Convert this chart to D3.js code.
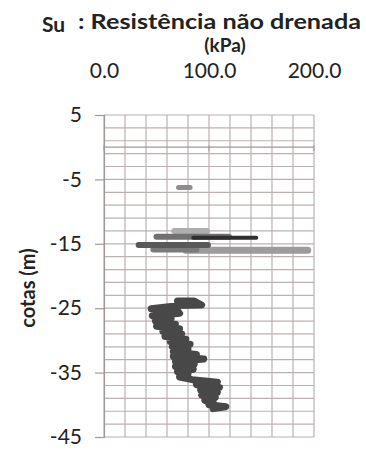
<!DOCTYPE html>
<html>
<head>
<meta charset="utf-8">
<script src="https://cdn.jsdelivr.net/npm/d3@7"></script>
<style>
  html, body { margin: 0; padding: 0; background: #fff; }
  svg { display: block; }
  text { font-family: Lato, "Open Sans", sans-serif; fill: #222; }
</style>
</head>
<body>
<svg id="chart" width="366" height="450"></svg>
<script>
// Undrained shear strength (Su, kPa) against elevation (m)
const suTicks = [0, 100, 200];
const cotaTicks = [5, -5, -15, -25, -35, -45];

// Isolated test readings: [Su (kPa), cota (m)]
const ensaioA = [[71, -6.25], [82, -6.25]];
const ensaioB = [[67, -13.0], [98, -13.0]];
const ensaioC = [[50, -13.9], [119, -13.9]];
const ensaioD = [[85, -14.05], [145, -14.05]];
const ensaioE = [[33, -15.2], [99, -15.2]];
const ensaioF = [[78, -16.0], [194, -16.0]];
const ensaioG = [[47, -15.9], [88, -15.9]];

// Continuous profile in the lower clay layer: [Su (kPa), cota (m)]
const perfil = [
  [70, -23.9], [86, -23.9], [93, -24.5], [70, -24.6], [45, -25.1], [70, -25.4],
  [72, -25.8], [46, -26.2], [64, -26.6], [49, -27.0], [68, -27.5], [50, -27.8],
  [72, -28.2], [56, -28.6], [74, -29.0], [58, -29.4], [78, -29.8], [63, -30.2],
  [82, -30.6], [65, -31.0], [80, -31.4], [66, -31.8], [88, -32.2], [66, -32.5],
  [95, -32.9], [68, -33.3], [86, -33.7], [68, -34.1], [85, -34.5], [70, -34.9],
  [80, -35.3], [72, -35.7], [84, -36.1], [108, -36.5], [88, -36.9], [110, -37.3],
  [92, -37.7], [108, -38.1], [93, -38.5], [106, -38.9], [96, -39.3], [104, -39.7],
  [100, -40.0], [116, -40.3], [104, -40.6]
];

const svg = d3.select("#chart");
const plotLeft = 104, plotRight = 314, plotTop = 115, plotBottom = 437;

const x = d3.scaleLinear().domain([0, 200]).range([plotLeft, plotRight]);
const y = d3.scaleLinear().domain([5, -45]).range([plotTop, plotBottom]);

const gridColor = "#bcb0b0";
const axisColor = "#a39797";
const labelFont = "Lato, 'Open Sans', sans-serif";

// Gridlines
const grid = svg.append("g");
grid.selectAll("line.v")
  .data(d3.range(0, 201, 20))
  .join("line")
  .attr("class", "v")
  .attr("x1", d => x(d)).attr("x2", d => x(d))
  .attr("y1", y(5)).attr("y2", y(-45))
  .attr("stroke", gridColor).attr("stroke-width", 1.2);
grid.selectAll("line.h")
  .data(d3.range(5, -46, -2))
  .join("line")
  .attr("class", "h")
  .attr("x1", x(0)).attr("x2", x(200))
  .attr("y1", d => y(d)).attr("y2", d => y(d))
  .attr("stroke", gridColor).attr("stroke-width", 1.2);

// Horizontal axis crossing at cota 0
svg.append("line")
  .attr("x1", x(0)).attr("x2", x(200))
  .attr("y1", y(0)).attr("y2", y(0))
  .attr("stroke", axisColor).attr("stroke-width", 1.2);
svg.append("g").selectAll("line")
  .data(suTicks)
  .join("line")
  .attr("x1", d => x(d)).attr("x2", d => x(d))
  .attr("y1", y(0) - 2).attr("y2", y(0) + 4)
  .attr("stroke", axisColor);

// Vertical axis
const yAxis = svg.append("g")
  .attr("transform", `translate(${plotLeft},0)`)
  .call(d3.axisLeft(y).tickValues(cotaTicks).tickSize(9).tickPadding(13).tickFormat(d3.format("d")));
yAxis.select(".domain").attr("stroke", axisColor).attr("stroke-width", 1.2);
yAxis.selectAll(".tick line").attr("stroke", axisColor).attr("stroke-width", 1.2);
yAxis.selectAll(".tick text")
  .attr("font-size", 21).attr("fill", "#222")
  .style("font-family", labelFont)
  .text(d => String(d));

// Su labels above the plot
const xAxis = svg.append("g")
  .attr("transform", `translate(0,${plotTop - 37.5})`)
  .call(d3.axisTop(x).tickValues(suTicks).tickSize(0).tickPadding(0).tickFormat(d3.format(".1f")));
xAxis.select(".domain").remove();
xAxis.selectAll(".tick text")
  .attr("font-size", 21).attr("fill", "#222")
  .style("font-family", labelFont);

// Series drawing
const line = d3.line().x(d => x(d[0])).y(d => y(d[1]));
const series = [
  { data: ensaioF, color: "#9c9c9c", width: 7 },
  { data: ensaioG, color: "#7a7a7a", width: 6 },
  { data: ensaioE, color: "#595959", width: 6 },
  { data: ensaioB, color: "#aeaeae", width: 6 },
  { data: ensaioC, color: "#717171", width: 6 },
  { data: ensaioD, color: "#2f2f2f", width: 4 },
  { data: ensaioA, color: "#8e8e8e", width: 5 },
  { data: perfil, color: "#484848", width: 7 }
];
svg.append("g").selectAll("path")
  .data(series)
  .join("path")
  .attr("d", d => line(d.data))
  .attr("fill", "none")
  .attr("stroke", d => d.color)
  .attr("stroke-width", d => d.width)
  .attr("stroke-linecap", "round")
  .attr("stroke-linejoin", "round");

// Titles
svg.append("text")
  .attr("x", 42).attr("y", 32)
  .attr("font-size", 21).attr("font-weight", 700)
  .text("Su");
svg.append("text")
  .attr("x", 78).attr("y", 28.5)
  .attr("font-size", 21).attr("font-weight", 700)
  .attr("textLength", 283).attr("lengthAdjust", "spacingAndGlyphs")
  .text(": Resistência não drenada");
svg.append("text")
  .attr("x", 225).attr("y", 52)
  .attr("text-anchor", "middle")
  .attr("font-size", 19).attr("font-weight", 700)
  .text("(kPa)");
svg.append("text")
  .attr("transform", "translate(35,288) rotate(-90)")
  .attr("text-anchor", "middle")
  .attr("font-size", 20).attr("font-weight", 700)
  .text("cotas (m)");
</script>
</body>
</html>
